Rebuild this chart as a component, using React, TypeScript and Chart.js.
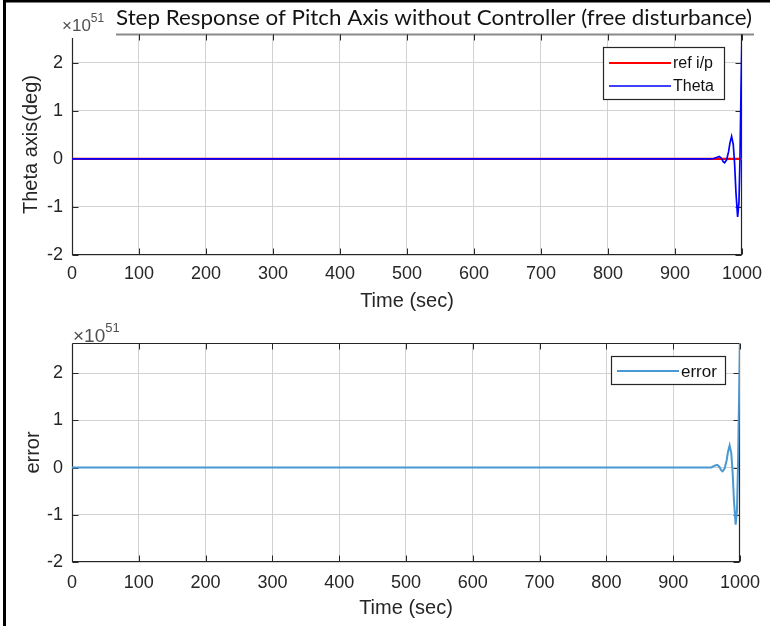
import React, { useEffect, useRef } from "react";
import { Chart, registerables } from "chart.js";

Chart.register(...registerables);

// ---- data (values in units of x10^51) ----
const refTime = [0, 1000];
const refValues = [0, 0];

const thetaTime = [0, 950, 957, 962, 966, 969, 972, 974, 977, 980, 982, 984.5, 987, 989, 991, 993.5, 995.5, 997, 998.5, 1000];
const thetaValues = [0, 0, 0.003, 0.03, 0.05, 0.02, -0.06, -0.08, -0.02, 0.15, 0.33, 0.47, 0.3, -0.1, -0.7, -1.21, -0.9, 0.0, 1.4, 2.6];

const errorTime = [0, 950, 957, 962, 966, 969, 972, 974, 977, 980, 982, 984.5, 987, 989, 991, 993.5, 995.5, 997, 998.5, 1000];
const errorValues = [0, 0, 0.003, 0.04, 0.06, 0.02, -0.06, -0.08, -0.02, 0.15, 0.33, 0.47, 0.3, -0.1, -0.7, -1.21, -0.9, 0.0, 1.4, 2.64];

const xTickValues = [0, 100, 200, 300, 400, 500, 600, 700, 800, 900, 1000];
const yTickValues = [-2, -1, 0, 1, 2];

const titleText = "Step Response of Pitch Axis without Controller (free disturbance)";
const xLabel = "Time (sec)";
const yLabel1 = "Theta axis(deg)";
const yLabel2 = "error";
const exponentText = "51";

const FONT = "'Liberation Sans', Arial, sans-serif";
const AX = "#262626";
const GRID = "#d2d2d2";

function pts(xs: number[], ys: number[]) {
  return xs.map((x, i) => ({ x, y: ys[i] }));
}

function scalesFor(opts: { yMax: number; xHeight: number; xTickPad: number; xTitlePadBottom: number; yTitle: string; yTitlePad: number }) {
  return {
    x: {
      type: "linear" as const,
      min: 0,
      max: 1000,
      afterBuildTicks: (s: any) => {
        s.ticks = xTickValues.map((v) => ({ value: v }));
      },
      afterFit: (s: any) => {
        s.height = opts.xHeight;
      },
      grid: { color: GRID, lineWidth: 1, drawTicks: false },
      border: { display: false },
      ticks: {
        font: { family: FONT, size: 18 },
        color: AX,
        padding: opts.xTickPad,
        maxRotation: 0,
        autoSkip: false,
        callback: (v: any) => String(v),
      },
      title: {
        display: true,
        text: xLabel,
        font: { family: FONT, size: 20 },
        color: AX,
        padding: { top: 0, bottom: opts.xTitlePadBottom },
      },
    },
    y: {
      type: "linear" as const,
      min: -2,
      max: opts.yMax,
      afterBuildTicks: (s: any) => {
        s.ticks = yTickValues.map((v) => ({ value: v }));
      },
      afterFit: (s: any) => {
        s.width = 72;
      },
      grid: { color: GRID, lineWidth: 1, drawTicks: false },
      border: { display: false },
      ticks: {
        font: { family: FONT, size: 18 },
        color: AX,
        padding: 9,
        callback: (v: any) => String(v),
      },
      title: {
        display: true,
        text: opts.yTitle,
        font: { family: FONT, size: 20 },
        color: AX,
        padding: { top: opts.yTitlePad, bottom: 0 },
      },
    },
  };
}

function drawBox(chart: any, cfg: { topFrom?: number; topTo?: number; topColor?: string; topWidth?: number; leftFrom?: number }) {
  const { ctx, chartArea } = chart;
  const { left, right, top, bottom } = chartArea;
  const xs = chart.scales.x;
  const ys = chart.scales.y;
  const L = Math.round(left) + 0.5;
  const R = Math.round(right) - 0.5;
  const T = Math.round(top) + 0.5;
  const B = Math.round(bottom) - 0.5;
  const tl = 6;
  ctx.save();
  ctx.strokeStyle = AX;
  ctx.lineWidth = 1.2;
  ctx.beginPath();
  ctx.moveTo(L, cfg.leftFrom !== undefined ? cfg.leftFrom : T);
  ctx.lineTo(L, B);
  ctx.lineTo(R, B);
  ctx.lineTo(R, T);
  ctx.stroke();
  const topFrom = cfg.topFrom !== undefined ? cfg.topFrom : L;
  const topTo = cfg.topTo !== undefined ? cfg.topTo : R;
  ctx.strokeStyle = cfg.topColor || AX;
  ctx.lineWidth = cfg.topWidth || 1.2;
  ctx.beginPath();
  ctx.moveTo(topFrom, T);
  ctx.lineTo(topTo, T);
  ctx.stroke();
  ctx.strokeStyle = AX;
  ctx.lineWidth = 1;
  ctx.beginPath();
  for (const v of xTickValues) {
    const px = Math.round(xs.getPixelForValue(v)) + 0.5;
    ctx.moveTo(px, B);
    ctx.lineTo(px, B - tl);
    if (px > topFrom) {
      ctx.moveTo(px, T);
      ctx.lineTo(px, T + tl);
    }
  }
  for (const v of yTickValues) {
    const py = Math.round(ys.getPixelForValue(v)) + 0.5;
    ctx.moveTo(L, py);
    ctx.lineTo(L + tl, py);
    ctx.moveTo(R, py);
    ctx.lineTo(R - tl, py);
  }
  ctx.stroke();
  ctx.restore();
}

function drawLegend(
  chart: any,
  box: { x: number; y: number; w: number; h: number },
  rows: number[],
  lineX0: number,
  lineX1: number,
  textX: number,
  fontSize: number
) {
  const { ctx } = chart;
  ctx.save();
  ctx.fillStyle = "#ffffff";
  ctx.fillRect(box.x, box.y, box.w, box.h);
  ctx.strokeStyle = AX;
  ctx.lineWidth = 1.2;
  ctx.strokeRect(box.x + 0.5, box.y + 0.5, box.w, box.h);
  chart.data.datasets.forEach((ds: any, i: number) => {
    const y = rows[i];
    ctx.strokeStyle = ds.borderColor;
    ctx.lineWidth = ds.borderWidth;
    ctx.beginPath();
    ctx.moveTo(lineX0, y);
    ctx.lineTo(lineX1, y);
    ctx.stroke();
    ctx.fillStyle = "#111111";
    ctx.font = `${fontSize}px ${FONT}`;
    ctx.textBaseline = "middle";
    ctx.textAlign = "left";
    ctx.fillText(ds.label, textX, y + 1);
  });
  ctx.restore();
}

function drawExponent(chart: any, x: number, baseline: number, size: number, supSize: number, supRaise: number) {
  const { ctx } = chart;
  ctx.save();
  ctx.fillStyle = "#505050";
  ctx.textBaseline = "alphabetic";
  ctx.textAlign = "left";
  ctx.font = `${size}px ${FONT}`;
  const base = "\u00d710";
  ctx.fillText(base, x, baseline);
  const w = ctx.measureText(base).width;
  ctx.font = `${supSize}px ${FONT}`;
  ctx.fillText(exponentText, x + w, baseline - supRaise);
  ctx.restore();
}

function drawPageBorder(chart: any, withTop: boolean) {
  const { ctx } = chart;
  ctx.save();
  ctx.fillStyle = "#000000";
  ctx.fillRect(3, 0, 3, chart.height);
  if (withTop) ctx.fillRect(3, 0, chart.width - 3, 2.5);
  ctx.restore();
}

const decor1 = {
  id: "decor1",
  beforeDatasetsDraw(chart: any) {
    const { ctx } = chart;
    ctx.save();
    ctx.fillStyle = "#ffffff";
    ctx.fillRect(60, 0, 56, 38);
    ctx.restore();
    drawBox(chart, { topFrom: 116, topTo: 754, topColor: "#8a8a8a", topWidth: 2, leftFrom: 38 });
  },
  afterDraw(chart: any) {
    drawLegend(chart, { x: 603, y: 47, w: 121, h: 52 }, [63, 86], 609, 671, 673, 16);
    drawExponent(chart, 62, 31, 17, 12, 9);
    const { ctx } = chart;
    ctx.save();
    ctx.fillStyle = "#141414";
    ctx.textBaseline = "alphabetic";
    ctx.textAlign = "left";
    ctx.font = "22px Lato, 'Open Sans', sans-serif";
    const w = ctx.measureText(titleText).width;
    const target = 636;
    ctx.translate(116, 25);
    ctx.scale(target / w, 1);
    ctx.fillText(titleText, 0, 0);
    ctx.restore();
    drawPageBorder(chart, true);
  },
};

const decor2 = {
  id: "decor2",
  beforeDatasetsDraw(chart: any) {
    drawBox(chart, {});
  },
  afterDraw(chart: any) {
    drawLegend(chart, { x: 611, y: 43, w: 114, h: 28 }, [58], 617, 679, 681, 17);
    drawExponent(chart, 73, 29, 19, 13, 10);
    drawPageBorder(chart, false);
  },
};

export default function App() {
  const ref1 = useRef<HTMLCanvasElement>(null);
  const ref2 = useRef<HTMLCanvasElement>(null);

  useEffect(() => {
    const c1 = new Chart(ref1.current as HTMLCanvasElement, {
      type: "line",
      data: {
        datasets: [
          { label: "ref i/p", data: pts(refTime, refValues), borderColor: "#ff0000", borderWidth: 2.2, pointRadius: 0, tension: 0, order: 2 },
          { label: "Theta", data: pts(thetaTime, thetaValues), borderColor: "#0000ff", borderWidth: 1.7, pointRadius: 0, tension: 0, order: 1 },
        ],
      },
      options: {
        animation: false,
        responsive: false,
        devicePixelRatio: 1,
        layout: { padding: { left: 0, right: 28, top: 34, bottom: 0 } },
        plugins: { legend: { display: false }, tooltip: { enabled: false } },
        scales: scalesFor({ yMax: 2.6, xHeight: 58, xTickPad: 8, xTitlePadBottom: 0, yTitle: yLabel1, yTitlePad: 19 }) as any,
      } as any,
      plugins: [decor1],
    });
    const c2 = new Chart(ref2.current as HTMLCanvasElement, {
      type: "line",
      data: {
        datasets: [
          { label: "error", data: pts(errorTime, errorValues), borderColor: "#4a98d3", borderWidth: 2, pointRadius: 0, tension: 0 },
        ],
      },
      options: {
        animation: false,
        responsive: false,
        devicePixelRatio: 1,
        layout: { padding: { left: 0, right: 28, top: 30, bottom: 0 } },
        plugins: { legend: { display: false }, tooltip: { enabled: false } },
        scales: scalesFor({ yMax: 2.64, xHeight: 64, xTickPad: 10, xTitlePadBottom: 6, yTitle: yLabel2, yTitlePad: 21 }) as any,
      } as any,
      plugins: [decor2],
    });
    return () => {
      c1.destroy();
      c2.destroy();
    };
  }, []);

  return (
    <div style={{ position: "absolute", left: 0, top: 0, width: 770, height: 626, background: "#ffffff" }}>
      <canvas ref={ref1} width={770} height={313} style={{ display: "block", width: 770, height: 313 }} />
      <canvas ref={ref2} width={770} height={313} style={{ display: "block", width: 770, height: 313 }} />
    </div>
  );
}
